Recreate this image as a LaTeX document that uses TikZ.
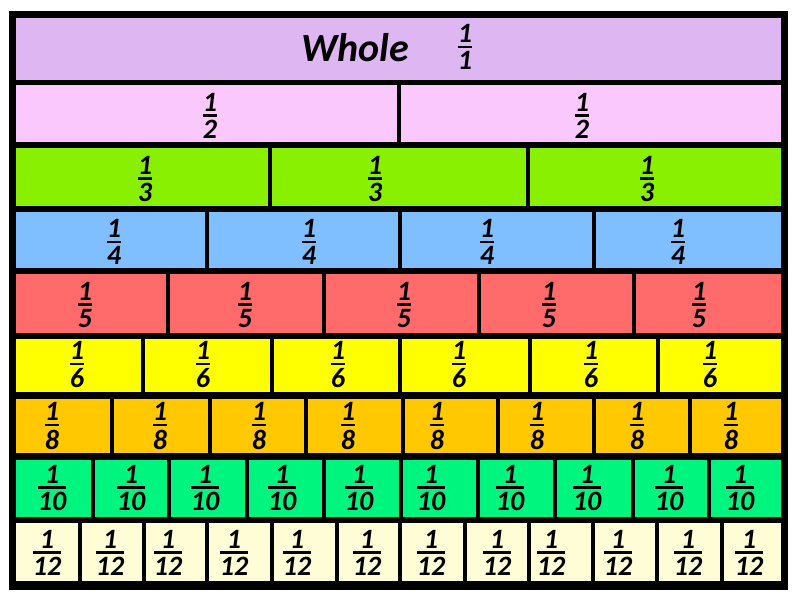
\documentclass[tikz,border=0pt]{standalone}
\usepackage{fontspec}
\setmainfont{Carlito}
\definecolor{cwhole}{HTML}{DEB6F1}
\definecolor{chalf}{HTML}{FAC8FC}
\definecolor{cthird}{HTML}{88F000}
\definecolor{cquarter}{HTML}{80BFFF}
\definecolor{cfifth}{HTML}{FF6B6B}
\definecolor{csixth}{HTML}{FFFF00}
\definecolor{ceighth}{HTML}{FFC800}
\definecolor{ctenth}{HTML}{00F57F}
\definecolor{ctwelfth}{HTML}{FFFDD5}
\newcommand\myfr[2]{\vbox{\offinterlineskip\halign{\hfil##\hfil\cr #1\cr\noalign{\kern3pt\hrule height 2.4pt\kern3.5pt}#2\cr}}}
\tikzset{
  lab/.style={inner sep=0pt, font=\fontsize{28}{32}\selectfont\bfseries\itshape},
  gapline/.style={line width=4pt, black},
}
\newcommand\fracrow[8]{%
  \fill[#4] (16,#2) rectangle (781,#3);
  \foreach \s in {#5} \draw[gapline] (\s,#2) -- (\s,#3);
  \foreach \xx [count=\i] in {#6} \node[lab] (#1-\i) at (\xx,#7) {\myfr{1}{#8}};
}
\begin{document}
\begin{tikzpicture}[x=1pt,y=-1pt]
\useasboundingbox (0,0) rectangle (800,600);
\fill[white] (0,0) rectangle (800,600);
\fill[black] (9,11) rectangle (788,590);
% whole
\fill[cwhole] (16,18) rectangle (781,80);
\node[lab, font=\fontsize{40}{44}\selectfont\bfseries\itshape] (whole) at (355,48) {Whole};
\node[lab] (w-1) at (465,47) {\myfr{1}{1}};
\fracrow{h}{85}{142}{chalf}{399}{210,582}{116}{2}
\fracrow{t}{148}{206}{cthird}{270,528}{145,375,647}{179}{3}
\fracrow{q}{212}{268}{cquarter}{207,400,594}{114,309,487,678}{242}{4}
\fracrow{f}{274}{333}{cfifth}{168,324,479,634}{85,245,404,549,699}{305}{5}
\fracrow{s}{339}{392}{csixth}{143,272,400,530,658}{77,203,338,459,591,710}{365}{6}
\fracrow{e}{399}{453}{ceighth}{112,210,306,403,498,594,690}{52,160,259,348,437,537,637,731}{426}{8}
\fracrow{d}{460}{517}{ctenth}{93,169,247,324,401,478,555,633,709}{52,131,205,282,359,431,510,587,669,740}{488}{10}
\fracrow{z}{523}{581}{ctwelfth}{80,144,207,272,337,400,465,529,593,657,722}{47,110,168,234,297,367,431,497,551,618,688,749}{553}{12}
\end{tikzpicture}
\end{document}
